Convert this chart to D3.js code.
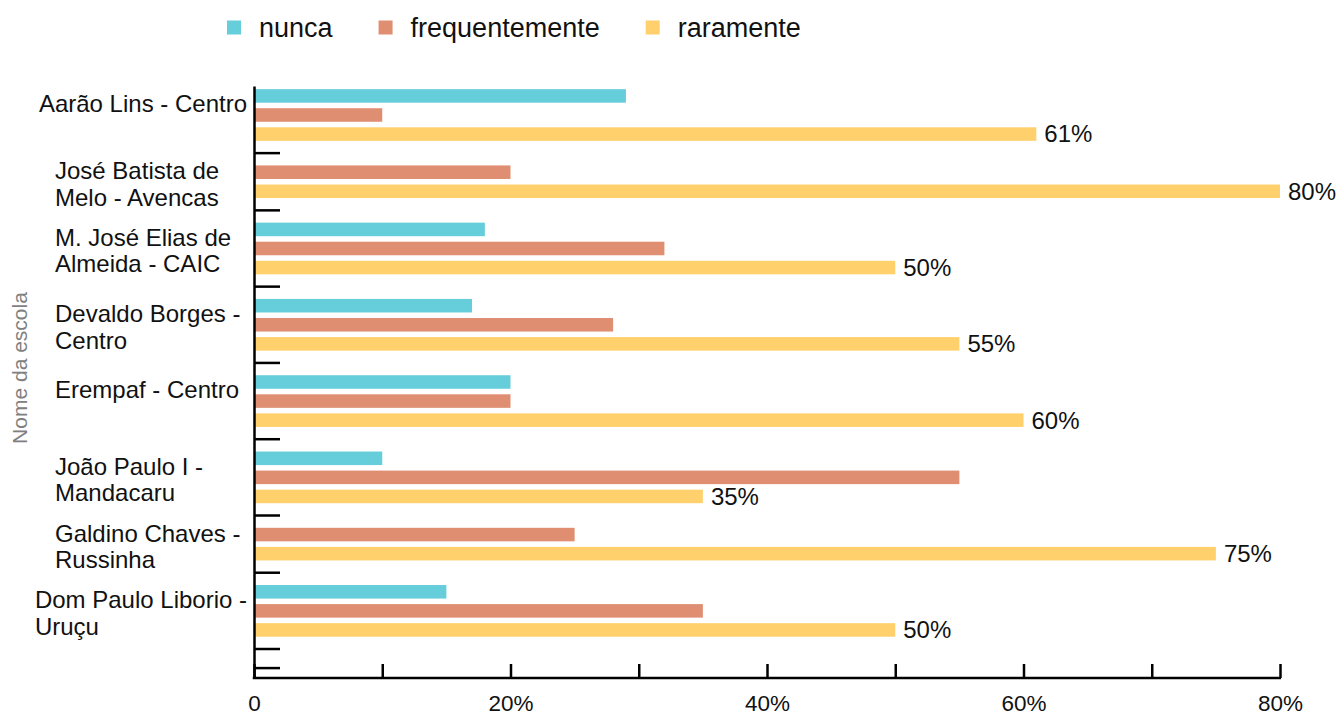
<!DOCTYPE html>
<html>
<head>
<meta charset="utf-8">
<script src="https://cdn.jsdelivr.net/npm/d3@7"></script>
<style>
  html, body { margin: 0; padding: 0; background: #fff; }
  svg { display: block; font-family: "Liberation Sans", Arial, Helvetica, sans-serif; }
</style>
</head>
<body>
<svg id="chart" width="1339" height="716"></svg>
<script>
// ---- data ----
const categories = [
  "Aarão Lins - Centro",
  "José Batista de\nMelo - Avencas",
  "M. José Elias de\nAlmeida - CAIC",
  "Devaldo Borges -\nCentro",
  "Erempaf - Centro",
  "João Paulo I -\nMandacaru",
  "Galdino Chaves -\nRussinha",
  "Dom Paulo Liborio -\nUruçu"
];
const seriesNames = ["nunca", "frequentemente", "raramente"];
const nunca          = [29, null, 18, 17, 20, 10, null, 15];
const frequentemente = [10, 20, 32, 28, 20, 55, 25, 35];
const raramente      = [61, 80, 50, 55, 60, 35, 75, 50];
const seriesColors = ["#66CDDA", "#E08E72", "#FFD06C"];
const xTickValues = [0, 10, 20, 30, 40, 50, 60, 70, 80];
const xTickLabels = ["0", "", "20%", "", "40%", "", "60%", "", "80%"];
const yTitle = "Nome da escola";

const seriesValues = [nunca, frequentemente, raramente];

// ---- layout ----
const svg = d3.select("#chart");
const axisX0 = 254, axisX1 = 1280, axisTop = 86, axisBottom = 678;

const x = d3.scaleLinear().domain([0, 80]).range([axisX0, axisX1]);

// rows: one per present bar, one empty separator row after each school, plus one extra
const slots = [];
const bars = [];
const gapSlots = [];
categories.forEach((c, i) => {
  seriesValues.forEach((vals, s) => {
    if (vals[i] != null) {
      const id = i + "-" + s;
      slots.push(id);
      bars.push({ id, cat: i, s, v: vals[i] });
    }
  });
  slots.push("gap-" + i);
  gapSlots.push("gap-" + i);
});
slots.push("gap-end");
gapSlots.push("gap-end");

const y = d3.scaleBand().domain(slots).range([axisTop, axisBottom])
  .paddingInner(0.29).paddingOuter(0.165);

// bars
svg.append("g").selectAll("rect").data(bars).join("rect")
  .attr("x", x(0))
  .attr("y", d => y(d.id))
  .attr("width", d => x(d.v) - x(0))
  .attr("height", y.bandwidth())
  .attr("fill", d => seriesColors[d.s]);

// value labels on "raramente"
svg.append("g").selectAll("text").data(bars.filter(d => d.s === 2)).join("text")
  .attr("x", d => x(d.v) + 8)
  .attr("y", d => y(d.id) + y.bandwidth() / 2)
  .attr("dy", "0.35em")
  .attr("font-size", 24)
  .attr("fill", "#111")
  .text(d => d.v + "%");

// y axis (ticks at separator rows, pointing right)
const yAxisG = svg.append("g")
  .attr("transform", `translate(${axisX0},0)`)
  .call(d3.axisRight(y).tickValues(gapSlots).tickSize(26).tickSizeOuter(0).tickFormat(""));
yAxisG.selectAll("path, line").attr("stroke", "#000").attr("stroke-width", 2.5);

// x axis
const xAxisG = svg.append("g")
  .attr("transform", `translate(0,${axisBottom})`)
  .call(d3.axisBottom(x).tickValues(xTickValues).tickSize(-14).tickSizeOuter(0).tickPadding(17)
    .tickFormat((d, i) => xTickLabels[i]));
xAxisG.select(".domain").attr("stroke", "#000").attr("stroke-width", 2.5)
  .attr("d", `M${axisX0 - 1.25},0H${axisX1 + 1}`);
xAxisG.selectAll("line").attr("stroke", "#000").attr("stroke-width", 2.5);
xAxisG.selectAll("text").attr("font-size", 22.5).attr("fill", "#111")
  .attr("font-family", "\"Liberation Sans\", Arial, Helvetica, sans-serif");

// category labels (left-aligned block, pushed left if too wide)
const labelRight = 247, labelLeft = 55;
categories.forEach((c, i) => {
  const ids = bars.filter(b => b.cat === i).map(b => b.id);
  const top = y(ids[0]);
  const bot = y(ids[ids.length - 1]) + y.bandwidth();
  const center = (top + bot) / 2;
  const lines = c.split("\n");
  const t = svg.append("text").attr("font-size", 24).attr("fill", "#111");
  lines.forEach((ln, k) => {
    t.append("tspan").attr("y", center - 11 + k * 26.5).attr("dy", "0.35em").text(ln);
  });
  let maxW = 0;
  t.selectAll("tspan").each(function () { maxW = Math.max(maxW, this.getComputedTextLength()); });
  const left = Math.min(labelLeft, labelRight - maxW);
  t.selectAll("tspan").attr("x", left);
});

// y title
svg.append("text")
  .attr("transform", "translate(27,368) rotate(-90)")
  .attr("text-anchor", "middle")
  .attr("font-size", 21)
  .attr("fill", "#808080")
  .text(yTitle);

// legend
const legend = svg.append("g");
let lx = 227;
seriesNames.forEach((name, s) => {
  legend.append("rect").attr("x", lx).attr("y", 20.5).attr("width", 14).attr("height", 14)
    .attr("fill", seriesColors[s]);
  const tx = legend.append("text").attr("x", lx + 32).attr("y", 27.5).attr("dy", "0.35em")
    .attr("font-size", 27).attr("fill", "#111").text(name);
  lx += 32 + tx.node().getComputedTextLength() + 46;
});
</script>
</body>
</html>
